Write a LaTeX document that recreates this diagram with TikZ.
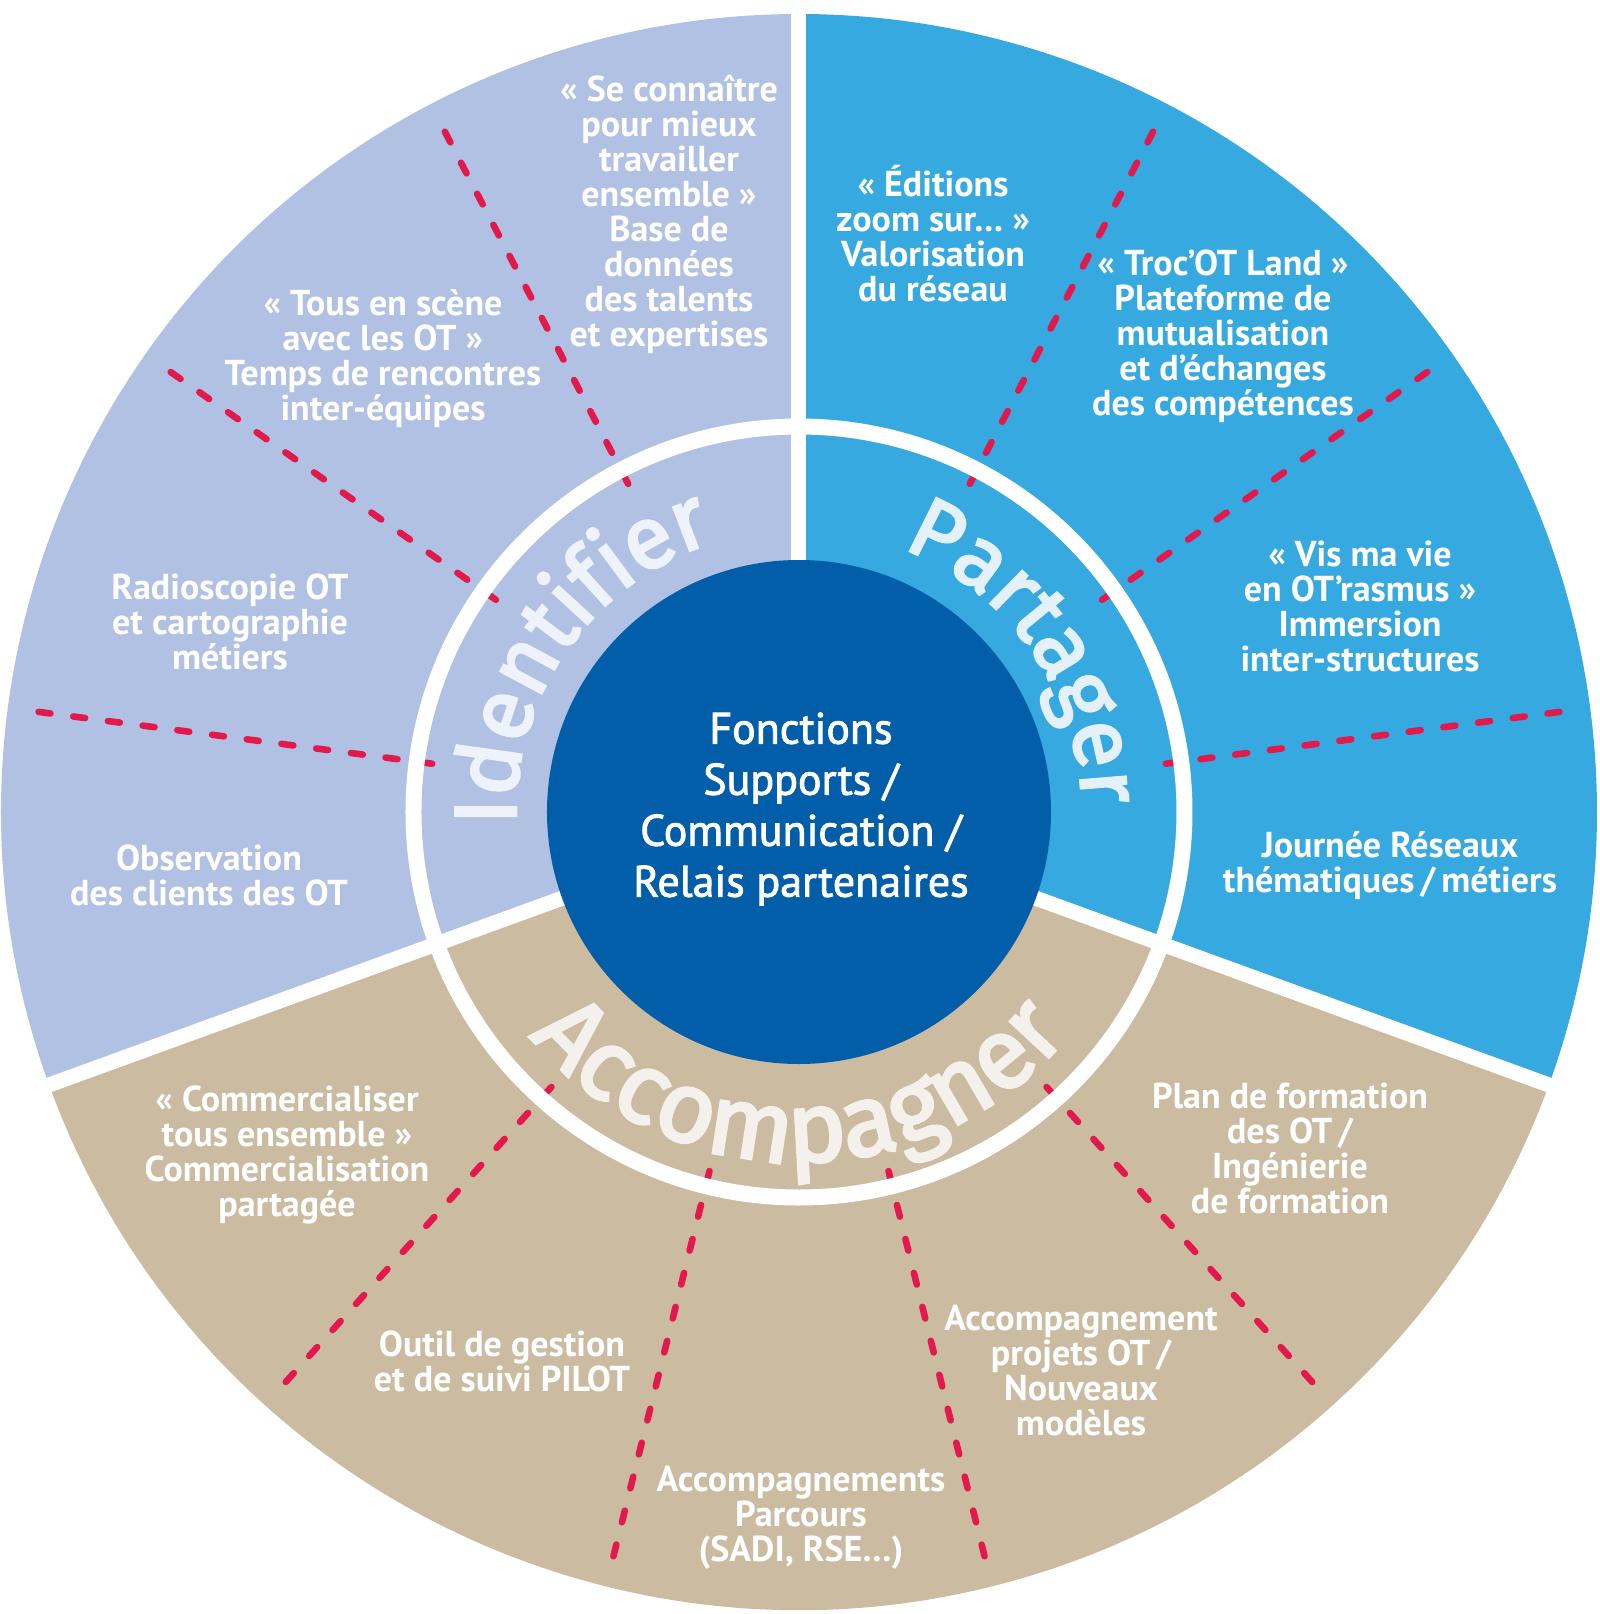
\documentclass[tikz,border=0pt]{standalone}
\usepackage{fontspec}
\setmainfont{PT Sans}
\newfontfamily\titlefont[FakeBold=3]{Fira Sans}
\newfontfamily\corefont[FakeBold=2]{PT Sans}
\usetikzlibrary{decorations.text}
\definecolor{idbg}{RGB}{177,193,228}
\definecolor{pabg}{RGB}{54,169,225}
\definecolor{acbg}{RGB}{202,187,161}
\definecolor{corebg}{RGB}{3,94,169}
\definecolor{dashred}{RGB}{227,25,75}
\definecolor{idtx}{RGB}{238,242,250}
\definecolor{patx}{RGB}{228,241,251}
\definecolor{actx}{RGB}{244,241,236}
\tikzset{
  sepline/.style={white, line width=7.5pt},
  reddash/.style={dashred, line width=3.3pt, line cap=round, dash pattern=on 6pt off 11.5pt},
  lbl/.style={align=center, text=white, font=\bfseries\fontsize{18}{17.5}\selectfont, inner sep=0pt},
  corelbl/.style={align=center, text=white, font=\corefont\fontsize{22}{25.5}\selectfont, inner sep=0pt},
}
\begin{document}
\begin{tikzpicture}[x=0.5pt,y=0.5pt]
\useasboundingbox (-799,-802) rectangle (801,812);
% sectors
\fill[idbg] (0,0) -- (90:798) arc[start angle=90,end angle=200,radius=798] -- cycle;
\fill[pabg] (0,0) -- (-20:798) arc[start angle=-20,end angle=90,radius=798] -- cycle;
\fill[acbg] (0,0) -- (200:798) arc[start angle=200,end angle=340,radius=798] -- cycle;
% red dashed separators
\foreach \a in {117.5,145,172.5,62.5,35,7.5,228,256,284,312}
  \draw[reddash] (\a:370) -- (\a:782);
% white ring and dividers
\draw[white, line width=8pt] (0,0) circle[radius=385.5];
\foreach \a in {90,200,340} \draw[sepline] (\a:250) -- (\a:805);
% core
\fill[corebg] (0,0) circle[radius=252];
% ring titles
\path[decorate, decoration={text along path, text align=center, text color=idtx,
  text={|\titlefont\fontsize{44}{44}\selectfont|Identifier}}]
  (200:283) arc[start angle=200, end angle=90, radius=283];
\path[decorate, decoration={text along path, text align=center, text color=patx,
  text={|\titlefont\fontsize{43}{43}\selectfont|Partager}}]
  (90:283) arc[start angle=90, end angle=-20, radius=283];
\path[decorate, decoration={text along path, text align=center, text color=actx,
  text={|\titlefont\fontsize{50}{50}\selectfont|Accompagner}}]
  (200:350) arc[start angle=200, end angle=340, radius=350];
% centre
\node[corelbl] (centre) at (2,3) {Fonctions\\Supports /\\Communication /\\Relais partenaires};
% Identifier
\node[lbl] (t1) at (-130,598) {« Se connaître\\pour mieux\\travailler\\ensemble »\\Base de\\données\\des talents\\et expertises};
\node[lbl] (t2) at (-416,453) {« Tous en scène\\avec les OT »\\Temps de rencontres\\inter-équipes};
\node[lbl] (t3) at (-569,190) {Radioscopie OT\\et cartographie\\métiers};
\node[lbl] (t4) at (-590,-63) {Observation\\des clients des OT};
% Partager
\node[lbl] (t5) at (134,578) {« Éditions\\zoom sur… »\\Valorisation\\du réseau};
\node[lbl] (t6) at (424,476) {« Troc’OT Land »\\Plateforme de\\mutualisation\\et d’échanges\\des compétences};
\node[lbl] (t7) at (561,206) {« Vis ma vie\\en OT’rasmus »\\Immersion\\inter-structures};
\node[lbl] (t8) at (591,-54) {Journée Réseaux\\thématiques\,/\,métiers};
% Accompagner
\node[lbl] (t9) at (-512,-343) {« Commercialiser\\tous ensemble »\\Commercialisation\\partagée};
\node[lbl] (t10) at (-297,-549) {Outil de gestion\\et de suivi PILOT};
\node[lbl] (t11) at (2,-706) {Accompagnements\\Parcours\\(SADI, RSE…)};
\node[lbl] (t12) at (282,-559) {Accompagnement\\projets OT\,/\\Nouveaux\\modèles};
\node[lbl] (t13) at (491,-336) {Plan de formation\\des OT\,/\\Ingénierie\\de formation};
\end{tikzpicture}
\end{document}
